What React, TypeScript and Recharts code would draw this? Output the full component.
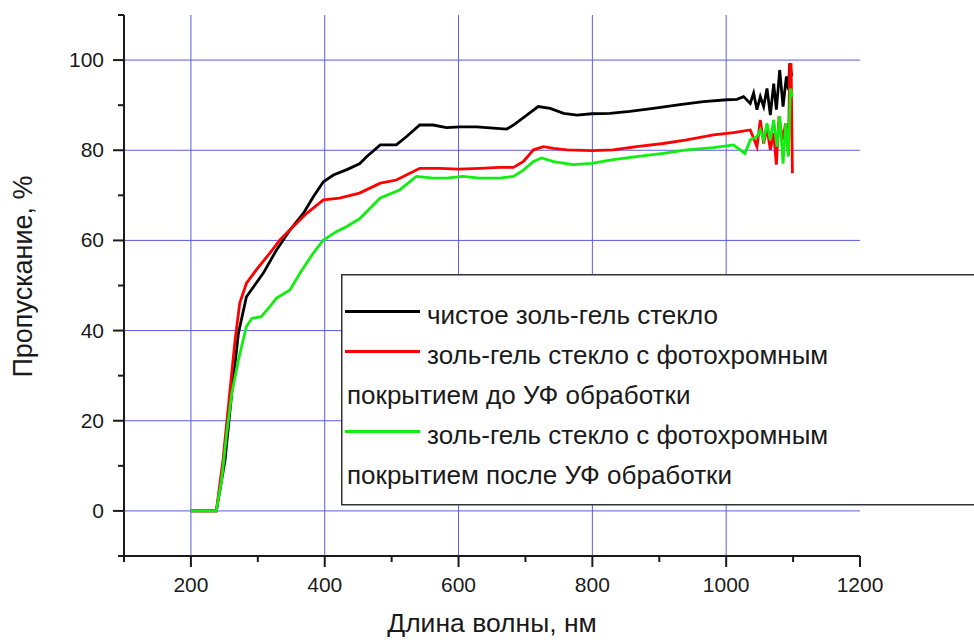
import { CartesianGrid, Label, Legend, Line, LineChart, XAxis, YAxis } from "recharts"

// Transmission spectra, wavelength in nm, transmission in %
const cleanNm = [200, 238, 251, 261, 271, 283, 308, 328, 348, 368, 383, 398, 413, 433, 452, 463, 483, 507, 522, 542, 562, 582, 602, 627, 652, 672, 682, 702, 719, 737, 757, 777, 799, 826, 856, 891, 931, 966, 1001, 1016, 1026, 1036, 1041, 1046, 1051, 1056, 1061, 1066, 1071, 1075, 1080, 1085, 1090, 1093, 1095, 1098];
const cleanT = [0, 0, 11.3, 26.1, 39.4, 47.5, 52.7, 57.9, 62.3, 66, 69.7, 73, 74.5, 75.7, 77, 78.6, 81.2, 81.2, 83, 85.6, 85.6, 85, 85.2, 85.2, 84.9, 84.7, 85.6, 87.8, 89.7, 89.3, 88.2, 87.8, 88.1, 88.2, 88.6, 89.3, 90.1, 90.8, 91.2, 91.3, 91.9, 90.4, 92.7, 89, 91.9, 89.7, 93.7, 87.8, 94.8, 89, 97.8, 89.7, 96.4, 93.4, 99.3, 96.4];

const beforeUvNm = [200, 238, 248, 258, 266, 273, 283, 298, 318, 333, 353, 373, 398, 422, 452, 483, 507, 522, 542, 572, 600, 632, 661, 682, 697, 712, 727, 742, 762, 799, 831, 866, 906, 941, 981, 1011, 1036, 1046, 1051, 1056, 1061, 1066, 1071, 1075, 1079, 1084, 1089, 1093, 1095, 1097, 1099];
const beforeUvT = [0, 0, 11.3, 26.1, 37.9, 46.1, 50.5, 53.5, 57.2, 60.1, 63.1, 66, 69, 69.4, 70.5, 72.7, 73.4, 74.5, 76, 76, 75.8, 76, 76.2, 76.2, 77.5, 80.1, 80.8, 80.4, 80.1, 79.9, 80.1, 80.8, 81.5, 82.3, 83.4, 83.9, 84.5, 80.8, 86.7, 81.5, 84.9, 80.1, 83.8, 76.8, 87.5, 82.3, 86, 79, 98.6, 99.3, 74.9];

const afterUvNm = [200, 238, 246, 253, 261, 271, 283, 291, 305, 318, 328, 348, 363, 373, 383, 398, 418, 433, 452, 483, 512, 537, 562, 582, 606, 632, 661, 682, 697, 712, 724, 742, 771, 799, 831, 866, 906, 941, 981, 1011, 1028, 1036, 1046, 1051, 1056, 1061, 1066, 1071, 1076, 1080, 1085, 1089, 1093, 1096, 1099];
const afterUvT = [0, 0, 6.9, 16.5, 26, 33.5, 40.9, 42.7, 43.1, 45.3, 47.2, 49, 52.7, 55, 57.2, 60.1, 62, 63.1, 64.8, 69.4, 71.2, 74.2, 73.8, 73.8, 74.2, 73.8, 73.8, 74.2, 75.6, 77.5, 78.3, 77.5, 76.8, 77.1, 77.9, 78.6, 79.3, 80.1, 80.6, 81.2, 79.3, 82.3, 83, 84.5, 82.3, 86, 82.3, 86.7, 80.8, 87.5, 77, 86, 78.6, 93.7, 91.9];

const xTicks = [100, 200, 300, 400, 500, 600, 700, 800, 900, 1000, 1100, 1200];
const xMajor = [200, 400, 600, 800, 1000, 1200];
const xGrid = [200, 400, 600, 800, 1000];
const yTicks = [-10, 0, 10, 20, 30, 40, 50, 60, 70, 80, 90, 100, 110];
const yMajor = [0, 20, 40, 60, 80, 100];
const yGrid = [0, 20, 40, 60, 80, 100];

const xTitle = "Длина волны, нм";
const yTitle = "Пропускание, %";

const series = [
  { key: "clean", color: "#000000", lines: ["чистое золь-гель стекло"], nm: cleanNm, t: cleanT },
  { key: "before", color: "#ff0000", lines: ["золь-гель стекло с фотохромным", "покрытием до УФ обработки"], nm: beforeUvNm, t: beforeUvT },
  { key: "after", color: "#11ee11", lines: ["золь-гель стекло с фотохромным", "покрытием после УФ обработки"], nm: afterUvNm, t: afterUvT },
];

const FONT = '"Liberation Sans", Arial, sans-serif';
const INK = "#1a1a1a";

function XTick(props: any) {
  const { x, y, payload } = props;
  const major = xMajor.includes(payload.value);
  return (
    <g>
      <line x1={x} x2={x} y1={y} y2={y + (major ? 11 : 6)} stroke={INK} strokeWidth={2} />
      {major && (
        <text x={x} y={y + 36} textAnchor="middle" fontSize={21} fill={INK} fontFamily={FONT}>
          {payload.value}
        </text>
      )}
    </g>
  );
}

function YTick(props: any) {
  const { x, y, payload } = props;
  const major = yMajor.includes(payload.value);
  return (
    <g>
      <line x1={x} x2={x - (major ? 11 : 6)} y1={y} y2={y} stroke={INK} strokeWidth={2} />
      {major && (
        <text x={x - 20} y={y + 7} textAnchor="end" fontSize={21} fill={INK} fontFamily={FONT}>
          {payload.value}
        </text>
      )}
    </g>
  );
}

function XTitle(props: any) {
  const { viewBox } = props;
  return (
    <text x={viewBox.x + viewBox.width / 2} y={viewBox.y + 76} textAnchor="middle" fontSize={26.5} fill={INK} fontFamily={FONT}>
      {xTitle}
    </text>
  );
}

function YTitle(props: any) {
  const { viewBox } = props;
  const cx = viewBox.x + 32;
  const cy = viewBox.y + viewBox.height / 2 - 9;
  return (
    <text x={cx} y={cy} transform={`rotate(-90 ${cx} ${cy})`} textAnchor="middle" fontSize={27} fill={INK} fontFamily={FONT}>
      {yTitle}
    </text>
  );
}

// Boxed legend; long names wrap onto a second row under the swatch
function BoxLegend() {
  let row = 0;
  const items: any[] = [];
  series.forEach((s) => {
    s.lines.forEach((text, i) => {
      const base = 50 + 40 * row;
      if (i === 0) {
        items.push(<line key={s.key + "-sw"} x1={4} x2={79} y1={base - 12.5} y2={base - 12.5} stroke={s.color} strokeWidth={3} />);
      }
      items.push(
        <text key={s.key + i} x={i === 0 ? 86 : 6} y={base} fontSize={26} fill={INK} fontFamily={FONT}>
          {text}
        </text>
      );
      row++;
    });
  });
  return (
    <svg width={700} height={232} style={{ display: "block" }}>
      <rect x={0.75} y={0.75} width={698} height={230} fill="#ffffff" stroke="#333333" strokeWidth={1.5} />
      {items}
    </svg>
  );
}

export default function App() {
  return (
    <div style={{ position: "absolute", left: 0, top: 0, width: 974, height: 640, overflow: "hidden", background: "#fff", fontFamily: FONT }}>
      <LineChart width={974} height={640} margin={{ top: 15, right: 114, left: 0, bottom: 0 }}>
        <CartesianGrid stroke="#5c5ce0" strokeWidth={1} horizontalValues={yGrid} verticalValues={xGrid} />
        <XAxis
          type="number"
          dataKey="nm"
          domain={[100, 1200]}
          ticks={xTicks}
          interval={0}
          allowDataOverflow
          height={84}
          tickSize={0}
          tickMargin={0}
          tickLine={false}
          tick={<XTick />}
          axisLine={{ stroke: INK, strokeWidth: 2 }}
        >
          <Label content={<XTitle />} />
        </XAxis>
        <YAxis
          type="number"
          domain={[-10, 110]}
          ticks={yTicks}
          interval={0}
          allowDataOverflow
          width={124}
          tickSize={0}
          tickMargin={0}
          tickLine={false}
          tick={<YTick />}
          axisLine={{ stroke: INK, strokeWidth: 2 }}
        >
          <Label content={<YTitle />} />
        </YAxis>
        {series.map((s) => (
          <Line
            key={s.key}
            data={s.nm.map((nm, i) => ({ nm, t: s.t[i] }))}
            dataKey="t"
            name={s.lines.join(" ")}
            stroke={s.color}
            strokeWidth={2.8}
            dot={false}
            activeDot={false}
            type="linear"
            isAnimationActive={false}
          />
        ))}
        <Legend
          layout="horizontal"
          verticalAlign="middle"
          align="center"
          wrapperStyle={{ position: "absolute", left: 341, top: 274, width: 700, height: 232 }}
          content={<BoxLegend />}
        />
      </LineChart>
    </div>
  );
}
